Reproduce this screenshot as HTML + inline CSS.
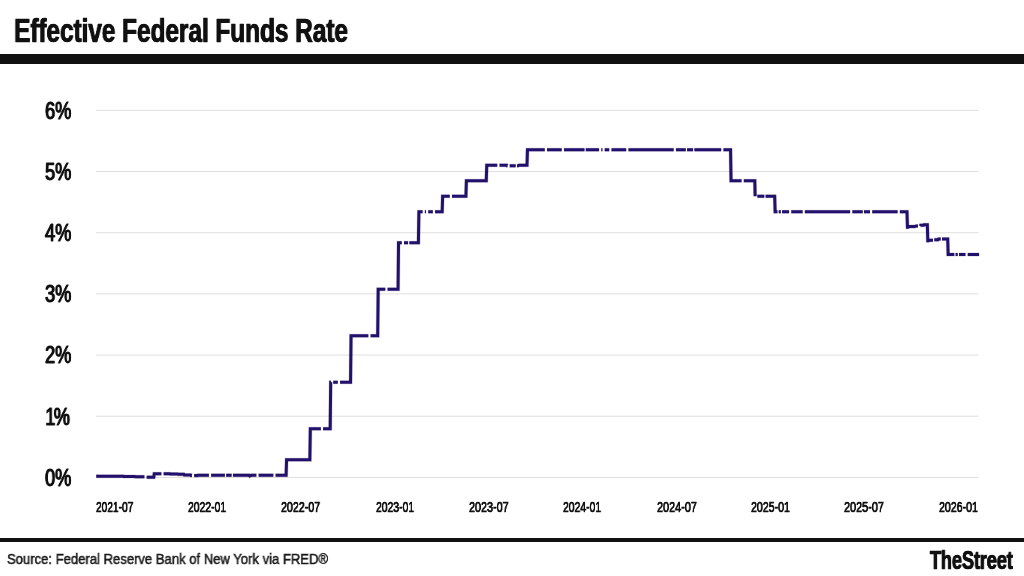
<!DOCTYPE html>
<html><head><meta charset="utf-8"><title>Effective Federal Funds Rate</title>
<style>
html,body{margin:0;padding:0;background:#fff;}
body{width:1024px;height:576px;position:relative;overflow:hidden;font-family:"Liberation Sans",sans-serif;color:#111;}
.title{position:absolute;left:14.2px;top:12.8px;will-change:transform;text-shadow:0.45px 0 0 #111,-0.45px 0 0 #111;font-weight:bold;font-size:32.8px;line-height:36px;white-space:nowrap;transform-origin:0 50%;transform:scaleX(0.751);letter-spacing:-0.2px;color:#111;-webkit-text-stroke:0.6px #111;}
.bar{position:absolute;left:0;top:54px;width:1024px;height:10px;background:#111;}
.rule{position:absolute;left:0;top:538px;width:1024px;height:4px;background:#111;}
svg{position:absolute;left:0;top:0;}
.yl{position:absolute;left:44.6px;height:30px;line-height:30px;font-size:24.5px;white-space:nowrap;transform-origin:0 50%;transform:scaleX(0.742);will-change:transform;-webkit-text-stroke:0.85px #111;text-shadow:0.65px 0 0 #111,-0.65px 0 0 #111;color:#111;}
.xl{will-change:transform;position:absolute;top:496.5px;white-space:nowrap;transform-origin:0 50%;font-size:15.5px;line-height:20px;-webkit-text-stroke:0.6px #111;text-shadow:0.35px 0 0 #111,-0.35px 0 0 #111;color:#111;}
.src{will-change:transform;position:absolute;left:7.3px;top:549.8px;font-size:14px;line-height:18px;white-space:nowrap;color:#181818;-webkit-text-stroke:0.5px #181818;transform-origin:0 50%;transform:scaleX(0.933);}
.logo{will-change:transform;position:absolute;right:11.7px;top:544.3px;text-shadow:0.4px 0 0 #111,-0.4px 0 0 #111;font-weight:bold;font-size:25px;line-height:32px;white-space:nowrap;transform-origin:100% 50%;transform:scaleX(0.735);-webkit-text-stroke:0.7px #111;color:#111;letter-spacing:-0.3px;}
</style></head>
<body>
<div class="title">Effective Federal Funds Rate</div>
<div class="bar"></div>
<svg width="1024" height="576" viewBox="0 0 1024 576">
<rect x="96" y="109.85" width="882.5" height="1" fill="#dfdfdf"/><rect x="96" y="171.02" width="882.5" height="1" fill="#dfdfdf"/><rect x="96" y="232.20" width="882.5" height="1" fill="#dfdfdf"/><rect x="96" y="293.38" width="882.5" height="1" fill="#dfdfdf"/><rect x="96" y="354.55" width="882.5" height="1" fill="#dfdfdf"/><rect x="96" y="415.73" width="882.5" height="1" fill="#dfdfdf"/><rect x="96" y="476.90" width="882.5" height="1" fill="#dfdfdf"/>
<path d="M96.22 476.22 L123.24 476.22 L123.73 476.53 L134.39 476.53 L135.84 476.84 L144.45 476.84 M146.63 477.15 L153.78 477.15 L154.26 473.74 L161.41 473.74 M163.59 473.74 L169.77 473.74 L170.26 474.05 L177.53 474.05 L178.01 474.36 L183.83 474.36 L184.31 474.98 L190.61 474.98 L191.10 475.60 L191.95 475.60 M194.13 475.60 L197.40 475.60 L197.88 475.29 L208.91 475.29 M211.09 475.29 L224.91 475.29 M226.12 475.29 L231.69 475.29 M232.90 475.29 L249.26 475.29 L249.75 475.91 L251.20 475.29 L256.41 475.29 M258.59 475.29 L273.38 475.29 M275.55 475.29 L286.10 475.29 L286.58 459.79 L309.85 459.79 L310.33 428.78 L320.87 428.78 M323.05 428.78 L330.20 428.78 L330.69 382.27 L331.05 382.27 M333.23 382.27 L337.84 382.27 M340.02 382.27 L350.56 382.27 L351.05 335.76 L368.37 335.76 M370.55 335.76 L377.70 335.76 L378.19 289.24 L385.34 289.24 M387.52 289.24 L398.06 289.24 L398.54 242.73 L401.82 242.73 M404.00 242.73 L408.12 242.73 M409.33 242.73 L418.42 242.73 L418.90 211.73 L422.66 211.73 M424.84 211.73 L426.05 211.73 M428.23 211.73 L432.84 211.73 M435.02 211.73 L442.17 211.73 L442.65 196.22 L449.80 196.22 M451.98 196.22 L465.92 196.22 L466.40 180.72 L486.27 180.72 L486.76 165.21 L497.30 165.21 M499.48 165.21 L506.63 165.21 L507.11 165.83 L507.48 165.83 M509.66 165.83 L515.72 165.83 M516.93 165.83 L517.78 165.83 L519.23 165.21 L526.99 165.21 L527.47 149.71 L544.80 149.71 M546.98 149.71 L561.76 149.71 M563.94 149.71 L584.54 149.71 M585.75 149.71 L599.09 149.71 M601.26 149.71 L602.48 149.71 M604.66 149.71 L609.26 149.71 M611.44 149.71 L626.23 149.71 M628.41 149.71 L673.73 149.71 M675.91 149.71 L685.84 149.71 M687.05 149.71 L693.11 149.71 M694.32 149.71 L721.23 149.71 M723.41 149.71 L730.56 149.71 L731.04 180.72 L741.58 180.72 M743.76 180.72 L754.79 180.72 L755.15 196.22 M757.33 196.22 L764.36 196.22 M765.57 196.22 L774.66 196.22 L775.15 211.73 L777.45 211.73 M778.66 211.73 L780.84 211.73 M782.05 211.73 L789.08 211.73 M791.26 211.73 L802.65 211.73 M804.83 211.73 L850.15 211.73 M852.33 211.73 L862.76 211.73 M863.96 211.73 L870.03 211.73 M872.20 211.73 L897.65 211.73 M899.83 211.73 L906.98 211.73 L907.47 227.23 L907.95 227.23 L909.41 226.61 L914.74 226.61 L916.19 225.99 L918.01 225.99 M920.19 225.99 L920.55 225.37 L923.46 225.37 L923.95 224.75 L927.34 224.75 L927.82 240.87 L928.31 240.87 L929.76 240.25 L933.03 240.25 M934.24 239.63 L938.00 239.63 L938.49 239.01 L940.79 239.01 M942.00 239.01 L947.70 239.01 L948.18 254.52 L954.36 254.52 M955.57 254.52 L957.75 254.52 M958.96 254.52 L965.51 254.52 M967.69 254.52 L979.08 254.52" fill="none" stroke="#23106b" stroke-opacity="0.2" stroke-width="4.1" stroke-linejoin="miter" stroke-linecap="butt"/>
<path d="M96.22 476.22 L123.24 476.22 L123.73 476.53 L134.39 476.53 L135.84 476.84 L144.45 476.84 M146.63 477.15 L153.78 477.15 L154.26 473.74 L161.41 473.74 M163.59 473.74 L169.77 473.74 L170.26 474.05 L177.53 474.05 L178.01 474.36 L183.83 474.36 L184.31 474.98 L190.61 474.98 L191.10 475.60 L191.95 475.60 M194.13 475.60 L197.40 475.60 L197.88 475.29 L208.91 475.29 M211.09 475.29 L224.91 475.29 M226.12 475.29 L231.69 475.29 M232.90 475.29 L249.26 475.29 L249.75 475.91 L251.20 475.29 L256.41 475.29 M258.59 475.29 L273.38 475.29 M275.55 475.29 L286.10 475.29 L286.58 459.79 L309.85 459.79 L310.33 428.78 L320.87 428.78 M323.05 428.78 L330.20 428.78 L330.69 382.27 L331.05 382.27 M333.23 382.27 L337.84 382.27 M340.02 382.27 L350.56 382.27 L351.05 335.76 L368.37 335.76 M370.55 335.76 L377.70 335.76 L378.19 289.24 L385.34 289.24 M387.52 289.24 L398.06 289.24 L398.54 242.73 L401.82 242.73 M404.00 242.73 L408.12 242.73 M409.33 242.73 L418.42 242.73 L418.90 211.73 L422.66 211.73 M424.84 211.73 L426.05 211.73 M428.23 211.73 L432.84 211.73 M435.02 211.73 L442.17 211.73 L442.65 196.22 L449.80 196.22 M451.98 196.22 L465.92 196.22 L466.40 180.72 L486.27 180.72 L486.76 165.21 L497.30 165.21 M499.48 165.21 L506.63 165.21 L507.11 165.83 L507.48 165.83 M509.66 165.83 L515.72 165.83 M516.93 165.83 L517.78 165.83 L519.23 165.21 L526.99 165.21 L527.47 149.71 L544.80 149.71 M546.98 149.71 L561.76 149.71 M563.94 149.71 L584.54 149.71 M585.75 149.71 L599.09 149.71 M601.26 149.71 L602.48 149.71 M604.66 149.71 L609.26 149.71 M611.44 149.71 L626.23 149.71 M628.41 149.71 L673.73 149.71 M675.91 149.71 L685.84 149.71 M687.05 149.71 L693.11 149.71 M694.32 149.71 L721.23 149.71 M723.41 149.71 L730.56 149.71 L731.04 180.72 L741.58 180.72 M743.76 180.72 L754.79 180.72 L755.15 196.22 M757.33 196.22 L764.36 196.22 M765.57 196.22 L774.66 196.22 L775.15 211.73 L777.45 211.73 M778.66 211.73 L780.84 211.73 M782.05 211.73 L789.08 211.73 M791.26 211.73 L802.65 211.73 M804.83 211.73 L850.15 211.73 M852.33 211.73 L862.76 211.73 M863.96 211.73 L870.03 211.73 M872.20 211.73 L897.65 211.73 M899.83 211.73 L906.98 211.73 L907.47 227.23 L907.95 227.23 L909.41 226.61 L914.74 226.61 L916.19 225.99 L918.01 225.99 M920.19 225.99 L920.55 225.37 L923.46 225.37 L923.95 224.75 L927.34 224.75 L927.82 240.87 L928.31 240.87 L929.76 240.25 L933.03 240.25 M934.24 239.63 L938.00 239.63 L938.49 239.01 L940.79 239.01 M942.00 239.01 L947.70 239.01 L948.18 254.52 L954.36 254.52 M955.57 254.52 L957.75 254.52 M958.96 254.52 L965.51 254.52 M967.69 254.52 L979.08 254.52" fill="none" stroke="#23106b" stroke-width="3" stroke-linejoin="miter" stroke-linecap="butt"/>
</svg>
<div class="yl" style="top:95.65px">6%</div><div class="yl" style="top:156.82px">5%</div><div class="yl" style="top:218.00px">4%</div><div class="yl" style="top:279.18px">3%</div><div class="yl" style="top:340.35px">2%</div><div class="yl" style="top:401.53px"><span style="margin-left:0.3px;margin-right:-2.2px">1</span>%</div><div class="yl" style="top:462.70px">0%</div>
<div class="xl" style="left:95.95px;transform:scaleX(0.6562)">2021-07</div><div class="xl" style="left:187.95px;transform:scaleX(0.6696)">2022-01</div><div class="xl" style="left:281.20px;transform:scaleX(0.6875)">2022-07</div><div class="xl" style="left:375.70px;transform:scaleX(0.6696)">2023-01</div><div class="xl" style="left:468.70px;transform:scaleX(0.6964)">2023-07</div><div class="xl" style="left:563.20px;transform:scaleX(0.6696)">2024-01</div><div class="xl" style="left:656.70px;transform:scaleX(0.7009)">2024-07</div><div class="xl" style="left:750.95px;transform:scaleX(0.6830)">2025-01</div><div class="xl" style="left:844.20px;transform:scaleX(0.7009)">2025-07</div><div class="xl" style="left:938.70px;transform:scaleX(0.6830)">2026-01</div>
<div class="rule"></div>
<div class="src">Source: Federal Reserve Bank of New York via FRED&reg;</div>
<div class="logo">TheStreet</div>
</body></html>
